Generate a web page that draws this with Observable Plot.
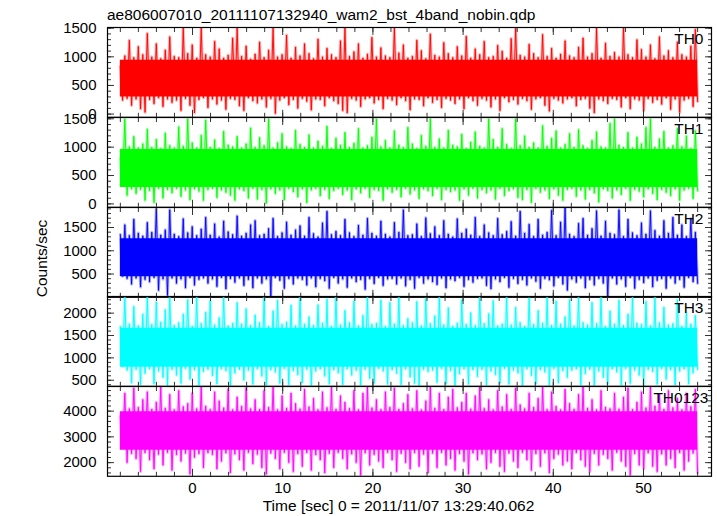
<!DOCTYPE html>
<html><head><meta charset="utf-8">
<script src="https://cdn.jsdelivr.net/npm/d3@7"></script>
<script src="https://cdn.jsdelivr.net/npm/@observablehq/plot@0.6"></script>
<style>
html,body{margin:0;padding:0;background:#fff;}
#wrap{position:relative;width:717px;height:516px;overflow:hidden;font-family:"Liberation Sans",Arial,sans-serif;}
.panel{position:absolute;left:0;}
#overlay{position:absolute;left:0;top:0;pointer-events:none;}
</style></head><body><div id="wrap"></div>
<script>
// ---- panel definitions ----
const bands = ["TH0", "TH1", "TH2", "TH3", "TH0123"];
const colors = ["#ff0000", "#00ff00", "#0000ff", "#00ffff", "#ff00ff"];
const yDomains = [[-56, 1512], [-60, 1523], [0, 1930], [365, 2372], [1469, 4957]];
const majorY = [[0, 500, 1000, 1500], [0, 500, 1000, 1500], [500, 1000, 1500], [500, 1000, 1500, 2000], [2000, 3000, 4000]];
const minorYStep = [100, 100, 100, 100, 200];
const coreLo = [300, 290, 440, 790, 2480];
const coreHi = [940, 960, 1260, 1660, 3980];
const xMajor = [0, 10, 20, 30, 40, 50];
const xMinorStep = 2;
const timeStart = -8, timeEnd = 56;

// ---- light-curve extremes (0.5 s steps, -8 .. 56 s) ----
const hiTH0 = [830,1020,1290,990,1180,1040,1410,1000,1230,970,
1120,1350,1010,990,1500,1060,1210,980,1500,1040,
1000,1270,1140,980,1030,1330,1500,1010,1190,960,
1050,1260,990,1120,1500,1000,1040,1380,980,1170,
1020,1230,1060,970,1310,1000,1150,1040,990,1280,
1500,1010,1090,1230,980,1050,1340,1000,1160,1020,
990,1500,1070,1210,980,1010,1290,1110,970,1400,
1030,1000,1250,1060,990,1180,1020,1360,980,1140,
1040,1270,990,1010,1200,1100,980,1320,1500,1030,
1000,1220,1060,990,1390,1010,1150,980,1050,1280,
1020,990,1170,1330,1000,1060,1500,980,1240,1010,
1080,1000,1500,1040,990,1300,1130,1000,1210,970,
1350,1020,1110,990,1260,1040,1000,1190,1480];
const loTH0 = [240,270,150,260,90,30,250,180,280,130,
260,200,240,60,270,150,20,250,280,110,
260,170,240,80,270,250,140,60,280,230,
190,260,120,270,10,240,280,160,250,100,
270,220,70,260,250,140,280,230,180,60,
20,270,240,130,260,280,190,250,90,270,
240,160,280,230,70,260,250,140,280,200,
250,110,270,240,180,260,90,280,230,150,
270,240,120,260,60,280,210,250,170,270,
230,80,260,280,150,50,270,240,190,260,
280,140,250,270,100,20,260,230,180,270,
250,120,280,90,260,240,60,270,200,250,
170,280,80,260,30,240,270,130,220];

const hiTH1 = [800,1500,1010,1190,990,1060,1320,1000,1140,980,
1250,1030,990,1360,1020,1500,1080,990,1210,1480,
1000,1130,980,1280,1040,1010,1190,990,1060,1340,
1000,1170,1030,1500,990,1080,1240,1010,980,1300,
1050,1000,1220,990,1110,1020,1370,980,1160,1040,
1260,1000,1070,1330,990,1030,1180,1500,1010,1120,
990,1290,1040,1000,1350,1060,980,1210,1020,1500,
1000,1150,990,1300,1040,1010,1230,980,1090,1270,
1020,990,1500,1140,1000,1330,1050,980,1500,1030,
1200,1000,1080,990,1380,1020,1160,1290,990,1050,
1240,1000,1310,1030,980,1120,1270,1010,990,1420,
1500,1040,1000,1260,990,1180,1060,1350,1500,1000,
1150,1280,990,1030,1330,1010,1200,980,1290];
const loTH1 = [340,150,260,180,250,60,230,20,270,100,
250,190,270,130,240,70,260,220,60,250,
270,110,240,200,150,60,260,230,100,270,
80,250,10,260,180,240,70,270,210,120,
260,20,240,270,140,250,90,230,270,160,
240,70,260,190,270,110,250,230,60,260,
200,250,120,270,170,240,90,260,230,140,
270,70,250,210,240,60,260,150,270,100,
250,190,240,80,270,140,230,260,110,70,
250,20,270,200,240,90,260,150,60,250,
270,130,240,80,250,190,30,260,230,100,
240,160,270,60,250,220,120,260,180,70,
250,200,140,260,60,240,270,90,230];

const hiTH2 = [1350,1560,1330,1680,1380,1320,1610,1400,1900,1340,
1450,1880,1360,1310,1690,1390,1520,1330,1470,1720,
1340,1580,1300,1640,1410,1350,1750,1320,1380,1560,
1650,1330,1360,1480,1700,1310,1390,1620,1340,1450,
1540,1320,1720,1370,1300,1600,1850,1350,1420,1330,
1680,1390,1310,1550,1340,1700,1380,1320,1640,1360,
1300,1610,1400,1880,1330,1350,1580,1310,1710,1370,
1520,1330,1650,1360,1300,1690,1380,1470,1340,1720,
1310,1560,1390,1330,1700,1350,1420,1630,1320,1850,
1380,1570,1310,1680,1340,1400,1870,1330,1620,1930,
1360,1310,1590,1700,1340,1480,1860,1320,1640,1380,
1350,1880,1310,1680,1390,1330,1600,1360,1860,1440,
1320,1650,1380,1720,1340,1560,1310,1690,1400];
const loTH2 = [450,400,280,410,220,380,330,420,150,390,
40,410,300,390,200,420,260,380,410,300,
390,230,420,180,400,320,410,250,380,200,
410,300,390,30,420,360,190,400,280,410,
380,260,410,220,400,350,190,420,300,390,
210,410,330,380,170,400,290,420,250,390,
400,280,410,240,380,190,420,300,390,330,
270,410,200,390,350,420,230,380,320,400,
410,250,180,390,330,420,210,400,290,380,
260,410,340,190,400,370,240,420,280,150,
390,320,410,200,380,260,400,300,20,410,
280,390,230,420,190,380,310,410,220,360,
400,190,410,300,380,210,420,330,300];

const hiTH3 = [1700,2370,1760,2150,1720,1980,2370,1750,2250,1800,
2080,2350,1730,1790,1980,2300,1710,2370,1770,2020,
2280,1740,1900,2370,1720,1780,2240,1760,2100,1730,
1960,1790,2370,1710,2050,2290,1750,1800,2180,1720,
2370,1760,1920,1730,2190,1780,2310,1710,2370,1740,
2060,1790,2270,1720,1950,2370,1750,1780,2290,1710,
2240,1760,2370,1730,1880,1790,2260,1720,2330,1770,
1940,2370,1740,2120,1710,1780,2300,1750,2010,1730,
2370,1770,1990,2280,1720,1760,2370,1740,2130,1790,
1710,2340,1750,2060,1780,2370,1730,2270,1760,1920,
2300,1720,2370,1790,1740,2240,1770,2370,1710,2050,
1760,2290,1730,1980,2370,1780,1750,2260,1720,2370,
1790,2130,1740,1770,2300,1710,2010,1760,1950];
const loTH3 = [800,720,440,740,400,650,750,420,700,560,
380,740,610,430,760,520,730,390,690,740,
600,420,750,710,380,660,740,500,720,410,
750,590,390,730,680,430,760,400,710,620,
440,740,380,700,750,590,420,730,660,400,
750,610,720,390,740,540,430,760,700,410,
730,650,400,750,570,430,380,740,690,720,
450,760,420,710,380,640,750,410,730,580,
740,390,700,620,430,760,410,720,660,380,
750,600,420,730,680,390,760,440,710,560,
720,750,400,640,740,380,700,560,420,750,
680,390,760,430,720,610,380,740,690,410,
760,520,730,390,700,750,420,660,740];

const hiTH0123 = [3800,4700,4100,4900,4150,4450,4750,4080,4350,4950,
4120,4650,4060,4800,4180,4300,4700,4100,4950,4200,
4070,4750,4400,4130,4850,4060,4550,4190,4900,4100,
4450,4080,4800,4150,4950,4060,4600,4120,4700,4300,
4090,4850,4170,4500,4060,4750,4140,4950,4080,4600,
4350,4110,4800,4060,4700,4950,4130,4450,4070,4750,
4150,4900,4080,4300,4650,4100,4800,4060,4400,4950,
4120,4700,4070,4550,4850,4140,4350,4700,4090,4600,
4950,4110,4450,4060,4800,4170,4650,4080,4900,4250,
4100,4700,4150,4500,4950,4070,4750,4190,4060,4850,
4300,4080,4650,4950,4120,4450,4060,4800,4160,4100,
4700,4090,4550,4900,4070,4350,4750,4130,4950,4200,
4650,4080,4800,4140,4500,4060,4700,4180,4850];
const loTH0123 = [2600,2000,2350,2150,1650,2380,2100,1750,2320,1900,
2390,1700,2300,2050,2360,1550,2200,2340,1800,2380,
2310,1750,2050,2370,1600,2330,2100,1700,2390,1950,
2320,1800,1550,2360,2150,1750,2390,2000,1650,2340,
1850,2380,1700,2300,2100,1600,2350,1800,2390,2150,
1750,2330,2000,1500,2370,1900,2310,2050,1800,2390,
2100,1650,2350,2000,1750,2380,1850,2320,1600,2360,
1800,2390,1900,2150,1700,2340,2050,1550,2370,2100,
2330,1750,2000,2380,1850,1650,2360,2050,1800,2390,
2100,1700,2340,1850,2370,1600,2150,2320,1900,2050,
1750,2380,2100,1850,1650,2350,1900,2310,2150,1700,
2390,2050,1850,1500,2340,1900,1750,2370,1850,1650,
2330,1900,2150,1800,2380,1700,2050,2360,1600];

const hiSeries = [hiTH0, hiTH1, hiTH2, hiTH3, hiTH0123];
const loSeries = [loTH0, loTH1, loTH2, loTH3, loTH0123];

// ---- texts ----
const titleText = "ae806007010_20111107132940_wam2_bst_4band_nobin.qdp";
const yLabelText = "Counts/sec";
const xLabelText = "Time [sec] 0 = 2011/11/07 13:29:40.062";

// ---- layout ----
const W = 717;
const frameTop = 27, frameH = 89.8;
const labelDx = [-8, -8, -8, -8, -3];
const FONT = "Liberation Sans, Arial, sans-serif";

const wrap = document.getElementById("wrap");

function zigzag(hi, lo) {
  const n = hi.length * 2;
  const step = (timeEnd - timeStart) / (n - 1);
  const out = [];
  for (let k = 0; k < hi.length; k++) {
    out.push({t: timeStart + (2 * k) * step, v: hi[k]});
    out.push({t: timeStart + (2 * k + 1) * step, v: lo[k]});
  }
  return out;
}

const xDomain = [(107 - 192) / 9.02, (711 - 192) / 9.02];
const xMinor = d3.range(timeStart, timeEnd + 0.01, xMinorStep);
const plain = d => String(d);
const blank = () => "";

for (let i = 0; i < 5; i++) {
  const last = i === 4;
  const mt = 10, mb = last ? 40 : 10;
  const data = zigzag(hiSeries[i], loSeries[i]);
  const dom = yDomains[i];
  const yMinor = d3.range(Math.ceil(dom[0] / minorYStep[i]) * minorYStep[i], dom[1], minorYStep[i]);
  const plot = Plot.plot({
    width: W,
    height: frameH + mt + mb,
    marginLeft: 107, marginRight: 6, marginTop: mt, marginBottom: mb,
    x: {domain: xDomain, label: null},
    y: {domain: dom, label: null},
    style: {background: "transparent", overflow: "visible", fontFamily: FONT, fontSize: "15px", color: "#000"},
    marks: [
      Plot.areaY(data, {x: "t", y1: () => coreLo[i], y2: () => coreHi[i], fill: colors[i], curve: "linear"}),
      Plot.line(data, {x: "t", y: "v", stroke: colors[i], strokeWidth: 3, strokeOpacity: 0.3, clip: true}),
      Plot.line(data, {x: "t", y: "v", stroke: colors[i], strokeWidth: 1, strokeOpacity: 0.9, clip: true}),
      Plot.axisY(majorY[i], {anchor: "left", tickSize: -7, tickPadding: 18, tickFormat: plain, stroke: "#333", label: null, fontSize: 15}),
      Plot.axisY(yMinor, {anchor: "left", tickSize: -4, tickFormat: blank, stroke: "#333", label: null}),
      Plot.axisY(majorY[i], {anchor: "right", tickSize: -7, tickFormat: blank, stroke: "#333", label: null}),
      Plot.axisY(yMinor, {anchor: "right", tickSize: -4, tickFormat: blank, stroke: "#333", label: null}),
      Plot.axisX(xMajor, {anchor: "top", tickSize: -7, tickFormat: blank, stroke: "#333", label: null}),
      Plot.axisX(xMinor, {anchor: "top", tickSize: -4, tickFormat: blank, stroke: "#333", label: null}),
      Plot.axisX(xMajor, {anchor: "bottom", tickSize: -7, tickPadding: 13, tickFormat: last ? plain : blank, stroke: "#333", label: null, fontSize: 15}),
      Plot.axisX(xMinor, {anchor: "bottom", tickSize: -4, tickFormat: blank, stroke: "#333", label: null}),
      Plot.frame({stroke: "#000", strokeWidth: 1.2}),
      Plot.text([bands[i]], {text: d => d, frameAnchor: "top-right", textAnchor: "end", dx: labelDx[i], dy: 5, fontSize: 15.5, fill: "#000"})
    ]
  });
  const div = document.createElement("div");
  div.className = "panel";
  div.style.top = (frameTop + i * frameH - mt) + "px";
  div.appendChild(plot);
  wrap.appendChild(div);
}

// overlay texts: title and axis titles
const ns = "http://www.w3.org/2000/svg";
const ov = document.createElementNS(ns, "svg");
ov.setAttribute("id", "overlay");
ov.setAttribute("width", W);
ov.setAttribute("height", 516);
function addText(str, x, y, anchor, rotate) {
  const t = document.createElementNS(ns, "text");
  t.textContent = str;
  t.setAttribute("x", x);
  t.setAttribute("y", y);
  t.setAttribute("text-anchor", anchor);
  t.setAttribute("font-family", FONT);
  t.setAttribute("font-size", "15.5");
  t.setAttribute("fill", "#000");
  if (rotate) t.setAttribute("transform", `rotate(-90 ${x} ${y})`);
  ov.appendChild(t);
}
addText(titleText, 107, 20, "start", false);
addText(xLabelText, 398.5, 510.5, "middle", false);
addText(yLabelText, 46.5, 258.5, "middle", true);
wrap.appendChild(ov);
</script>
</body></html>
